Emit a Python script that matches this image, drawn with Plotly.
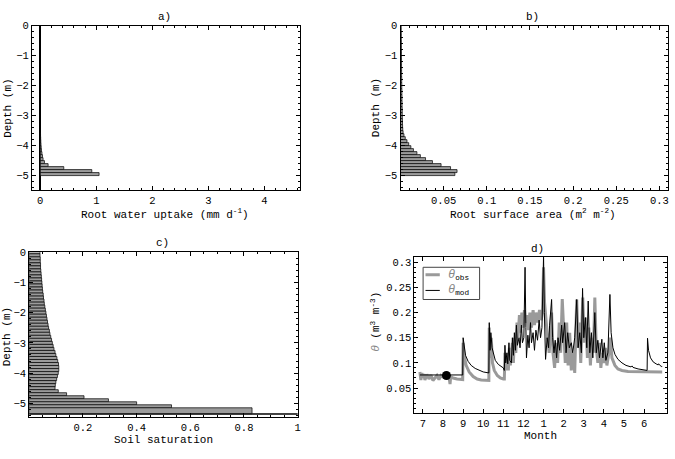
import plotly.graph_objects as go

# ---------------- data ----------------
# panel a/b : 0.1 m layers, centres from -0.05 to -4.95
depth_ab = [-0.05 - 0.1 * i for i in range(50)]
uptake = [0.0] * 35 + [0.003, 0.005, 0.007, 0.010, 0.013, 0.017, 0.022, 0.030,
                        0.040, 0.050, 0.075, 0.140, 0.420, 0.920, 1.050]
root_area = [0.0008, 0.0008, 0.0009, 0.0009, 0.0009, 0.0010, 0.0010, 0.0010, 0.0011, 0.0011,
             0.0011, 0.0012, 0.0012, 0.0012, 0.0013, 0.0013, 0.0013, 0.0014, 0.0014, 0.0015,
             0.0015, 0.0016, 0.0016, 0.0017, 0.0017, 0.0018, 0.0018, 0.0019, 0.0020, 0.0020,
             0.0021, 0.0022, 0.0023, 0.0024, 0.0026,
             0.0030, 0.0040, 0.0055, 0.0075, 0.0095, 0.0120, 0.0150, 0.0190, 0.0230, 0.0290,
             0.0370, 0.0470, 0.0580, 0.0655, 0.0630]

# panel c : soil saturation profile
depth_c = [-0.1 * i for i in range(52)] + [-5.25, -5.355]
width_c = [0.1] * 52 + [0.2, 0.03]
saturation = [0.040, 0.040, 0.041, 0.041, 0.042, 0.042, 0.043, 0.044, 0.045, 0.046,
              0.047, 0.048, 0.049, 0.050, 0.052, 0.053, 0.055, 0.056, 0.058, 0.060,
              0.062, 0.064, 0.066, 0.068, 0.070, 0.072, 0.075, 0.077, 0.080, 0.083,
              0.086, 0.089, 0.092, 0.096, 0.099, 0.103, 0.106, 0.109, 0.110, 0.110,
              0.108, 0.105, 0.102, 0.099, 0.097, 0.096, 0.108, 0.139, 0.204, 0.295,
              0.400, 0.530, 0.830, 1.000]

# panel d : soil moisture time series (x in months, 13 = January)
mod_t = [6.85, 8.98, 9.00, 9.05, 9.12, 9.25, 9.4, 9.6, 9.8, 10.0, 10.28, 10.30, 10.34, 10.38,
         10.44, 10.50, 10.6, 10.75, 10.9, 11.0, 11.05, 11.08, 11.12, 11.18, 11.22, 11.28,
         11.32, 11.40, 11.45, 11.50, 11.55, 11.60, 11.65, 11.70, 11.78, 11.83, 11.90, 11.95,
         12.02, 12.08, 12.12, 12.15, 12.22, 12.28, 12.35, 12.40, 12.48, 12.55, 12.62, 12.70,
         12.78, 12.85, 12.92, 13.00, 13.04, 13.10, 13.18, 13.25, 13.30, 13.40, 13.45, 13.52,
         13.58, 13.65, 13.72, 13.80, 13.90, 13.95, 14.05, 14.12, 14.20, 14.28, 14.38, 14.45,
         14.55, 14.65, 14.72, 14.80, 14.88, 14.94, 15.00, 15.08, 15.15, 15.22, 15.30, 15.38,
         15.45, 15.55, 15.62, 15.70, 15.78, 15.90, 15.95, 16.02, 16.10, 16.20, 16.30, 16.36,
         16.45, 16.55, 16.7, 16.9, 17.1, 17.35, 17.40, 17.45, 17.7, 18.0, 18.15, 18.17, 18.22,
         18.32, 18.45, 18.6, 18.7, 18.72, 18.78, 18.85, 18.9]
mod_v = [0.076, 0.076, 0.150, 0.130, 0.115, 0.103, 0.095, 0.089, 0.085, 0.082, 0.080, 0.180,
         0.125, 0.160, 0.130, 0.118, 0.105, 0.097, 0.092, 0.090, 0.085, 0.135, 0.100, 0.120,
         0.098, 0.140, 0.105, 0.100, 0.150, 0.115, 0.160, 0.125, 0.175, 0.135, 0.150, 0.130,
         0.175, 0.140, 0.150, 0.290, 0.170, 0.110, 0.155, 0.130, 0.180, 0.140, 0.160, 0.125,
         0.165, 0.145, 0.185, 0.150, 0.170, 0.312, 0.200, 0.107, 0.150, 0.130, 0.175, 0.226,
         0.150, 0.120, 0.145, 0.110, 0.150, 0.125, 0.175, 0.140, 0.180, 0.120, 0.160, 0.130,
         0.140, 0.120, 0.150, 0.226, 0.130, 0.160, 0.120, 0.248, 0.150, 0.190, 0.130, 0.223,
         0.120, 0.160, 0.110, 0.200, 0.120, 0.145, 0.110, 0.147, 0.110, 0.140, 0.105, 0.120,
         0.236, 0.160, 0.130, 0.117, 0.107, 0.100, 0.095, 0.092, 0.094, 0.091, 0.088, 0.086,
         0.085, 0.149, 0.125, 0.110, 0.102, 0.098, 0.096, 0.098, 0.095, 0.093, 0.093]

obs_t = [6.85, 6.9, 6.95, 7.0, 7.05, 7.1, 7.2, 7.3, 7.4, 7.5, 7.6, 7.7, 7.8, 7.9, 8.0, 8.1, 8.2,
         8.3, 8.35, 8.38, 8.5, 8.7, 8.98, 9.00, 9.05, 9.15, 9.3, 9.5, 9.7, 9.9, 10.28, 10.30,
         10.34, 10.40, 10.46, 10.55, 10.7, 10.85, 11.0, 11.05, 11.08, 11.12, 11.20, 11.25,
         11.30, 11.35, 11.45, 11.50, 11.55, 11.62, 11.68, 11.73, 11.80, 11.85, 11.92, 11.98,
         12.05, 12.10, 12.18, 12.25, 12.32, 12.40, 12.48, 12.55, 12.62, 12.70, 12.80, 12.88,
         12.95, 13.00, 13.05, 13.12, 13.20, 13.28, 13.35, 13.40, 13.47, 13.55, 13.62, 13.70,
         13.78, 13.85, 13.93, 14.00, 14.08, 14.15, 14.22, 14.30, 14.38, 14.48, 14.55, 14.65,
         14.72, 14.78, 14.85, 14.95, 15.02, 15.10, 15.18, 15.25, 15.33, 15.40, 15.48, 15.55,
         15.62, 15.70, 15.78, 15.85, 15.92, 16.00, 16.08, 16.15, 16.25, 16.32, 16.40, 16.55,
         16.7, 16.9, 17.2, 18.9]
obs_v = [0.082, 0.066, 0.080, 0.070, 0.078, 0.066, 0.077, 0.068, 0.076, 0.065, 0.070, 0.075,
         0.067, 0.075, 0.072, 0.074, 0.070, 0.072, 0.058, 0.072, 0.070, 0.068, 0.067, 0.140,
         0.115, 0.095, 0.082, 0.073, 0.068, 0.066, 0.065, 0.170, 0.110, 0.150, 0.100, 0.085,
         0.075, 0.070, 0.068, 0.068, 0.120, 0.085, 0.110, 0.085, 0.130, 0.095, 0.140, 0.100,
         0.150, 0.120, 0.180, 0.150, 0.195, 0.160, 0.200, 0.170, 0.205, 0.180, 0.195, 0.165,
         0.200, 0.170, 0.205, 0.175, 0.200, 0.180, 0.205, 0.185, 0.200, 0.290, 0.220, 0.180,
         0.150, 0.120, 0.160, 0.200, 0.120, 0.090, 0.140, 0.100, 0.180, 0.120, 0.227, 0.160,
         0.100, 0.180, 0.095, 0.160, 0.085, 0.120, 0.080, 0.226, 0.130, 0.180, 0.100, 0.230,
         0.140, 0.190, 0.110, 0.170, 0.095, 0.150, 0.120, 0.230, 0.130, 0.100, 0.140, 0.090,
         0.120, 0.100, 0.130, 0.095, 0.120, 0.150, 0.110, 0.095, 0.088, 0.085, 0.083, 0.082]

start_t = [8.17]
start_v = [0.075]

month_vals = [7, 8, 9, 10, 11, 12, 13, 14, 15, 16, 17, 18]
month_text = ["7", "8", "9", "10", "11", "12", "1", "2", "3", "4", "5", "6"]

# ---------------- figure ----------------
W, H = 675, 459
MONO = "Courier New, Liberation Mono, DejaVu Sans Mono, monospace"
BAR_FILL = "#9b9b9b"
BAR_LINE = dict(color="black", width=0.7)

fig = go.Figure()
fig.add_trace(go.Bar(x=uptake, y=depth_ab, width=[0.1] * 50, orientation="h",
                     marker=dict(color=BAR_FILL, line=BAR_LINE), xaxis="x", yaxis="y"))
fig.add_trace(go.Bar(x=root_area, y=depth_ab, width=[0.1] * 50, orientation="h",
                     marker=dict(color=BAR_FILL, line=BAR_LINE), xaxis="x2", yaxis="y2"))
fig.add_trace(go.Bar(x=saturation, y=depth_c, width=width_c, orientation="h",
                     marker=dict(color=BAR_FILL, line=BAR_LINE), xaxis="x3", yaxis="y3"))
fig.add_trace(go.Scatter(x=obs_t, y=obs_v, mode="lines", line=dict(color="#9a9a9a", width=3),
                         xaxis="x4", yaxis="y4"))
fig.add_trace(go.Scatter(x=mod_t, y=mod_v, mode="lines", line=dict(color="black", width=1),
                         xaxis="x4", yaxis="y4"))
fig.add_trace(go.Scatter(x=start_t, y=start_v, mode="markers",
                         marker=dict(color="black", size=9), xaxis="x4", yaxis="y4"))


def px(x0, x1):
    return [x0 / W, x1 / W]


def py(y_top, y_bot):
    return [1 - y_bot / H, 1 - y_top / H]


def ax(domain, rng, anchor, minor_dtick, **kw):
    d = dict(domain=domain, range=rng, anchor=anchor, showline=True, linecolor="black",
             linewidth=1, mirror="allticks", ticks="inside", ticklen=4, tickcolor="black",
             showgrid=False, zeroline=False,
             tickfont=dict(family=MONO, size=10.5, color="black"),
             minor=dict(ticks="inside", ticklen=2, dtick=minor_dtick, tickcolor="black",
                        showgrid=False))
    d.update(kw)
    return d


fig.update_layout(
    width=W, height=H, margin=dict(l=0, r=0, t=0, b=0),
    paper_bgcolor="white", plot_bgcolor="white", showlegend=False, barmode="overlay",
    font=dict(family=MONO, size=11, color="black"),
    xaxis=ax(px(32, 301), [-0.15, 4.63], "y", 0.2, tickvals=[0, 1, 2, 3, 4],
             zeroline=True, zerolinecolor="black", zerolinewidth=1.5),
    yaxis=ax(py(21, 187), [-5.48, 0.001], "x", 0.2, tickvals=[0, -1, -2, -3, -4, -5]),
    xaxis2=ax(px(402.3, 671), [0, 0.31], "y2", 0.01,
              tickvals=[0.05, 0.1, 0.15, 0.2, 0.25, 0.3],
              ticktext=["0.05", "0.1", "0.15", "0.2", "0.25", "0.3"]),
    yaxis2=ax(py(21, 187), [-5.48, 0.001], "x2", 0.2, tickvals=[0, -1, -2, -3, -4, -5]),
    xaxis3=ax(px(29.4, 299), [0, 1], "y3", 0.05, tickvals=[0.2, 0.4, 0.6, 0.8, 1],
              ticktext=["0.2", "0.4", "0.6", "0.8", "1"]),
    yaxis3=ax(py(250, 416.7), [-5.46, 0.001], "x3", 0.2, tickvals=[0, -1, -2, -3, -4, -5]),
    xaxis4=ax(px(416.3, 670), [6.58, 19.14], "y4", None, tickvals=month_vals,
              ticktext=month_text),
    yaxis4=ax(py(255, 412.7), [0, 0.31], "x4", 0.01,
              tickvals=[0.05, 0.1, 0.15, 0.2, 0.25, 0.3],
              ticktext=["0.05", "0.1", "0.15", "0.2", "0.25", "0.3"]),
)
fig.layout.xaxis4.minor = dict(ticks="")

F = dict(family=MONO, size=11, color="black")
anns = [
    ("a)", 165, 12, 0),
    ("b)", 535, 12, 0),
    ("c)", 163, 241, 0),
    ("d)", 540, 247, 0),
    ("Root water uptake (mm d<sup>-1</sup>)", 166, 211, 0),
    ("Root surface area (m<sup>2</sup> m<sup>-2</sup>)", 535, 211, 0),
    ("Soil saturation", 164, 440, 0),
    ("Month", 543, 436, 0),
    ("Depth (m)", 8, 104, -90),
    ("Depth (m)", 378, 104, -90),
    ("Depth (m)", 7, 335, -90),
    ("<span style=\"color:#888888\"><i>θ</i></span> (m<sup>3</sup> m<sup>-3</sup>)", 377, 320, -90),
]
for text, x, y, ang in anns:
    fig.add_annotation(text=text, x=x / W, y=1 - y / H, xref="paper", yref="paper",
                       showarrow=False, textangle=ang, font=F, xanchor="center",
                       yanchor="middle")

# legend box of panel d (drawn in its data coordinates)
fig.add_shape(type="rect", xref="x4", yref="y4", x0=7.01, x1=9.82, y0=0.226, y1=0.29,
              line=dict(color="#444444", width=1), fillcolor="white", layer="above")
fig.add_shape(type="line", xref="x4", yref="y4", x0=7.13, x1=7.84, y0=0.275, y1=0.275,
              line=dict(color="#9a9a9a", width=3), layer="above")
fig.add_shape(type="line", xref="x4", yref="y4", x0=7.13, x1=7.84, y0=0.244, y1=0.244,
              line=dict(color="black", width=1), layer="above")
fig.add_annotation(text="<span style=\"color:#888888;font-size:12px\"><i>θ</i></span><sub>obs</sub>",
                   x=8.15, y=0.275, xref="x4", yref="y4", showarrow=False, xanchor="left",
                   yanchor="middle", font=F)
fig.add_annotation(text="<span style=\"color:#888888;font-size:12px\"><i>θ</i></span><sub>mod</sub>",
                   x=8.15, y=0.244, xref="x4", yref="y4", showarrow=False, xanchor="left",
                   yanchor="middle", font=F)

fig.write_html("out.html")
